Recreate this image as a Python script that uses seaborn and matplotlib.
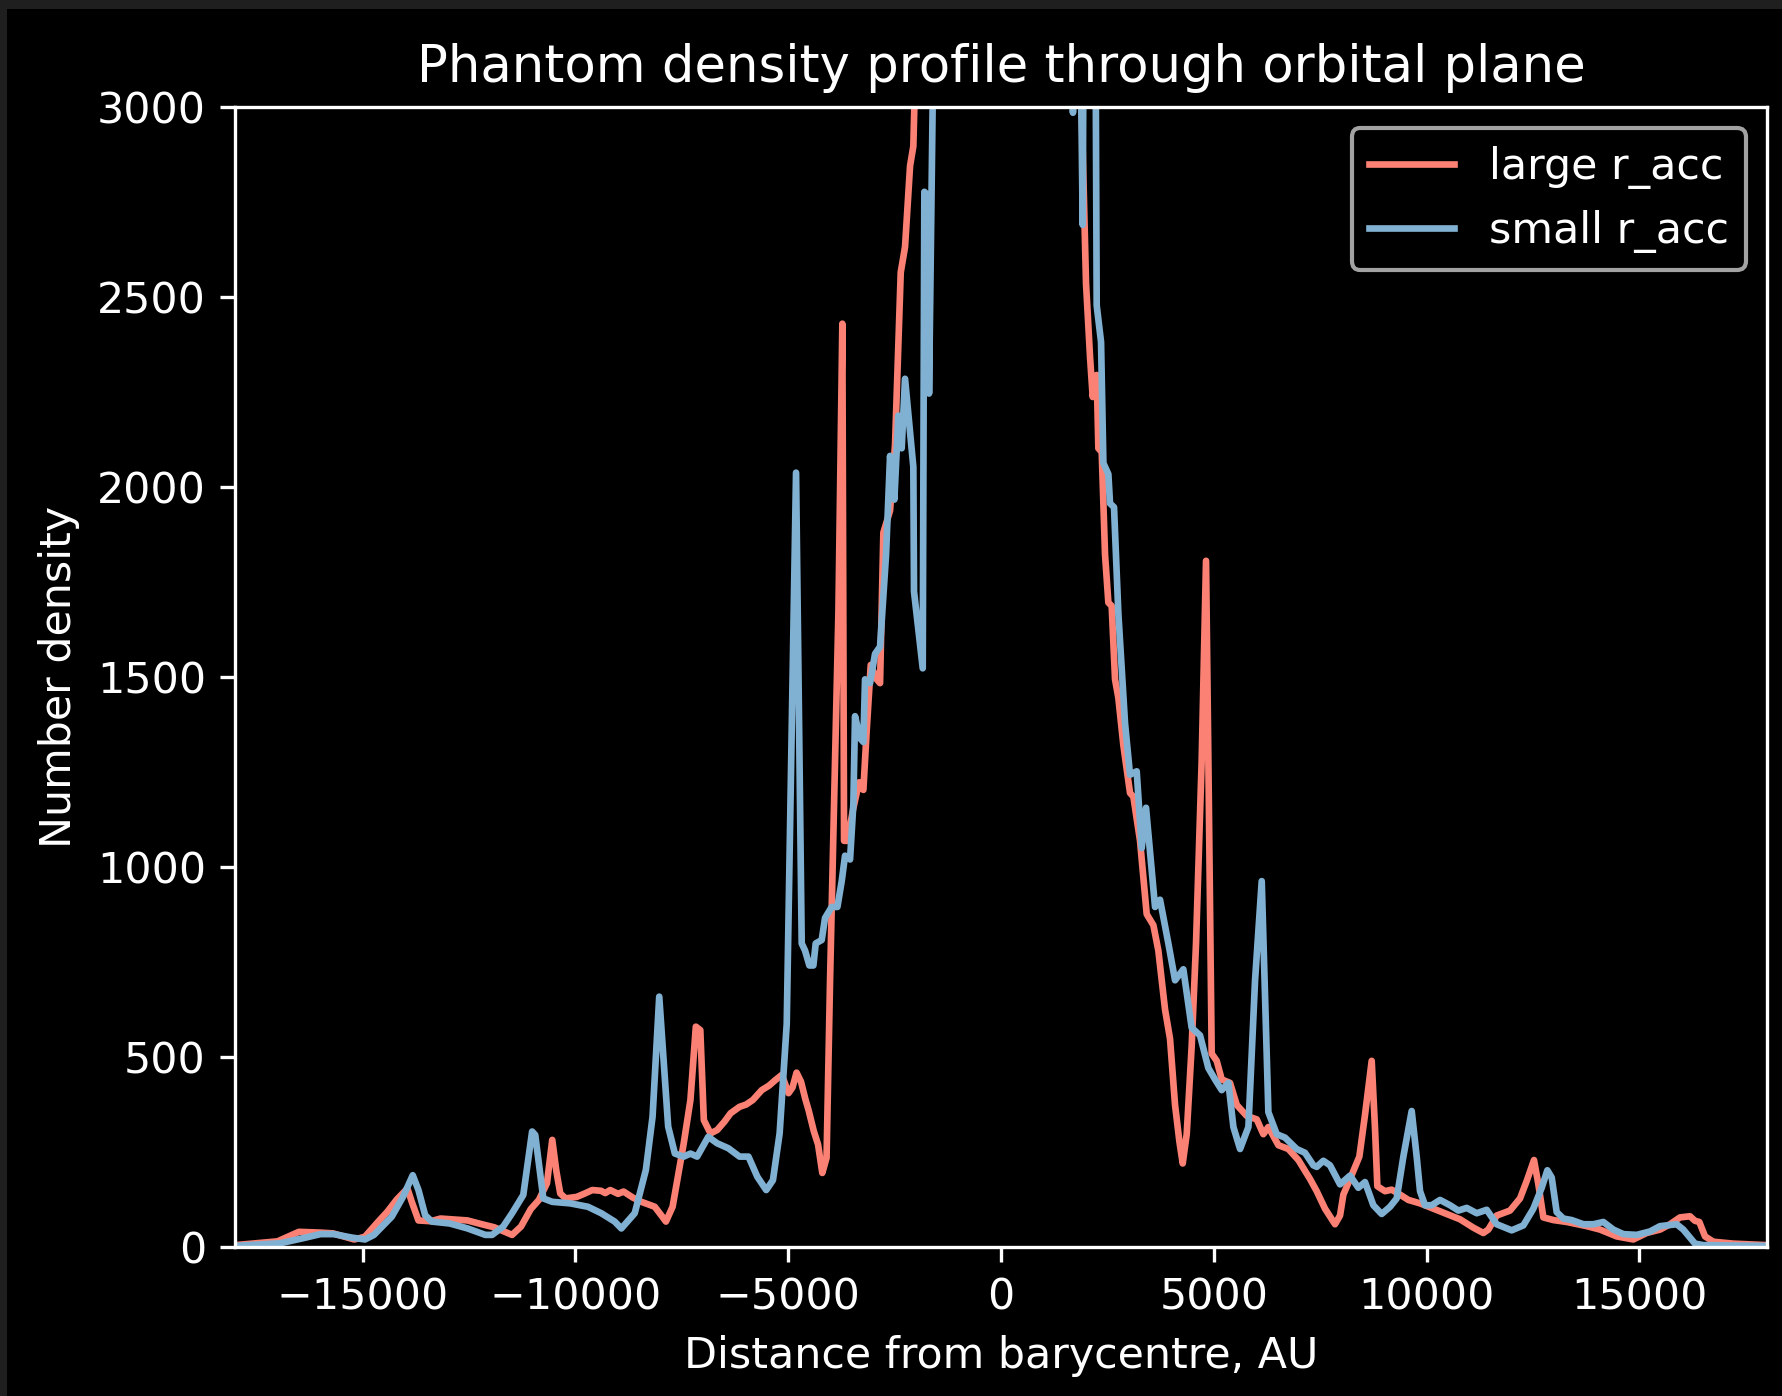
import matplotlib
matplotlib.use("Agg")
import matplotlib.pyplot as plt
from matplotlib.patches import Rectangle
import seaborn as sns
import pandas as pd

# Density profile along the orbital-plane cut, two accretion radii
large_x = [-18000, -17000, -16500, -16000, -15700, -15200, -14950, -14650, -14420, -14200,
           -13950, -13850, -13690, -13400, -13170, -12800, -12540, -12200, -11910, -11490,
           -11280, -11050, -10860, -10670, -10546, -10450, -10358, -10232, -9970, -9800,
           -9604, -9400, -9300, -9184, -9000, -8870, -8650, -8451, -8137, -7960,
           -7875, -7718, -7456, -7299, -7172, -7067, -6984, -6827, -6670, -6500,
           -6356, -6145, -5990, -5832, -5623, -5450, -5308, -5151, -4994, -4900,
           -4805, -4700, -4600, -4522, -4400, -4300, -4200, -4100, -4018, -3940,
           -3822, -3729, -3689, -3611, -3480, -3337, -3235, -3157, -3062, -2921,
           -2843, -2765, -2608, -2491, -2357, -2256, -2138, -2061, -1900, -1200,
           -600, 0, 600, 1200, 1850, 1960, 1997, 2091, 2154, 2248,
           2287, 2366, 2444, 2522, 2600, 2679, 2757, 2875, 3031, 3110,
           3266, 3423, 3580, 3697, 3854, 3971, 4089, 4191, 4269, 4363,
           4480, 4582, 4715, 4817, 4872, 4950, 5068, 5186, 5381, 5539,
           5774, 6009, 6164, 6282, 6517, 6752, 6987, 7261, 7418, 7613,
           7848, 7966, 8044, 8201, 8420, 8553, 8710, 8788, 8843, 9023,
           9179, 9376, 9571, 9846, 10159, 10473, 10786, 11099, 11333, 11451,
           11648, 11961, 12196, 12353, 12524, 12627, 12744, 12979, 13293, 13763,
           14075, 14467, 14858, 15172, 15486, 15720, 15955, 16190, 16307, 16409,
           16543, 16738, 17208, 18000]
large_n = [5, 15, 40, 38, 36, 20, 27, 65, 93, 125,
           154, 120, 70, 68, 75, 72, 70, 60, 52, 32,
           54, 100, 124, 168, 282, 200, 141, 128, 132, 140,
           150, 148, 142, 150, 140, 146, 130, 119, 106, 80,
           67, 106, 273, 387, 580, 571, 334, 299, 308, 330,
           352, 369, 375, 387, 413, 425, 439, 453, 405, 420,
           459, 435, 390, 360, 305, 270, 195, 235, 702, 1088,
           1667, 2430, 1069, 1069, 1150, 1223, 1203, 1359, 1532, 1494,
           1484, 1880, 1938, 2111, 2565, 2632, 2845, 2897, 3600, 5000,
           6500, 7000, 6500, 5000, 3200, 2700, 2536, 2343, 2237, 2295,
           2102, 2092, 1822, 1696, 1687, 1494, 1445, 1320, 1195, 1185,
           1069, 876, 847, 780, 625, 548, 374, 278, 220, 297,
           529, 799, 1281, 1806, 1281, 509, 490, 441, 432, 374,
           345, 336, 297, 316, 268, 258, 229, 179, 147, 101,
           60, 83, 138, 179, 238, 348, 490, 312, 160, 147,
           151, 138, 124, 115, 101, 87, 73, 51, 37, 46,
           83, 96, 128, 174, 229, 165, 78, 71, 66, 55,
           46, 28, 20, 37, 46, 60, 78, 81, 69, 66,
           28, 14, 9, 5]

small_x = [-18000, -16937, -16413, -15993, -15681, -15261, -14946, -14736, -14317, -14054,
           -13824, -13690, -13533, -13376, -12955, -12537, -12118, -11960, -11698, -11490,
           -11227, -11019, -10946, -10756, -10546, -10127, -9708, -9394, -9079, -8922,
           -8608, -8346, -8189, -8032, -7822, -7665, -7456, -7299, -7142, -6880,
           -6670, -6408, -6145, -5935, -5727, -5518, -5360, -5203, -5036, -4817,
           -4684, -4605, -4504, -4410, -4355, -4214, -4136, -3979, -3845, -3744,
           -3666, -3548, -3470, -3431, -3313, -3235, -3196, -3078, -2961, -2843,
           -2702, -2608, -2507, -2413, -2335, -2256, -2061, -2045, -1840, -1802,
           -1708, -1692, -1574, -1000, 0, 900, 1500, 1690, 1780, 1856,
           1919, 1950, 2209, 2248, 2350, 2405, 2522, 2561, 2655, 2757,
           2914, 3031, 3188, 3306, 3407, 3619, 3736, 3932, 4089, 4284,
           4480, 4676, 4872, 5029, 5186, 5343, 5460, 5617, 5813, 5969,
           6126, 6282, 6478, 6673, 6948, 7143, 7339, 7418, 7574, 7731,
           7966, 8201, 8396, 8553, 8749, 8945, 9141, 9298, 9454, 9650,
           9767, 9846, 9963, 10120, 10316, 10551, 10747, 10943, 11178, 11413,
           11648, 12000, 12274, 12509, 12705, 12838, 12940, 13057, 13214, 13410,
           13684, 13919, 14153, 14388, 14623, 14937, 15250, 15486, 15877, 16033,
           16307, 16504, 18000]
small_n = [3, 10, 23, 34, 34, 25, 20, 32, 80, 132,
           189, 150, 84, 67, 62, 49, 32, 32, 54, 89,
           137, 304, 295, 128, 119, 115, 106, 89, 67, 49,
           89, 203, 343, 659, 317, 246, 238, 246, 238, 290,
           273, 260, 238, 238, 185, 150, 176, 299, 587, 2038,
           799, 780, 741, 741, 799, 808, 866, 895, 895, 963,
           1030, 1020, 1166, 1397, 1339, 1329, 1494, 1484, 1561, 1580,
           1822, 2082, 1967, 2188, 2102, 2285, 2053, 1725, 1523, 2777,
           2767, 2246, 3300, 5000, 6200, 5200, 3800, 2985, 3400, 3300,
           2690, 3500, 3500, 2478, 2382, 2063, 2034, 1957, 1947, 1667,
           1378, 1243, 1252, 1050, 1156, 895, 914, 799, 702, 731,
           577, 557, 471, 441, 413, 432, 316, 258, 316, 702,
           963, 355, 297, 288, 258, 248, 215, 211, 227, 215,
           165, 188, 156, 171, 110, 87, 106, 128, 238, 358,
           238, 147, 110, 110, 124, 110, 96, 103, 89, 98,
           60, 44, 57, 101, 156, 202, 183, 92, 75, 71,
           60, 60, 66, 46, 34, 32, 41, 55, 60, 46,
           9, 5, 3]

labels = ["large r_acc", "small r_acc"]
colors = ["#fa8174", "#81b1d2"]

plt.style.use("dark_background")
plt.rcParams["font.family"] = ["DejaVu Sans"]
plt.rcParams["font.size"] = 10.25

fig = plt.figure(figsize=(1782 / 300, 1396 / 300), dpi=300)
ax = fig.add_axes([0.1319, 0.1067, 0.9916 - 0.1319, 0.9233 - 0.1067])

large_df = pd.DataFrame({"x": large_x, "n": large_n})
small_df = pd.DataFrame({"x": small_x, "n": small_n})
sns.lineplot(data=large_df, x="x", y="n", ax=ax, color=colors[0], label=labels[0],
             linewidth=1.6, sort=False, estimator=None)
sns.lineplot(data=small_df, x="x", y="n", ax=ax, color=colors[1], label=labels[1],
             linewidth=1.6, sort=False, estimator=None)

ax.set_xlim(-18000, 18000)
ax.set_ylim(0, 3000)
ax.set_title("Phantom density profile through orbital plane", fontsize=12.3)
ax.set_xlabel("Distance from barycentre, AU", fontsize=10.25)
ax.set_ylabel("Number density", fontsize=10.25)
ax.tick_params(labelsize=10.25)
ax.legend(loc="upper right", fontsize=10.25)

# thin grey margin along the top and left edges of the canvas
fig.patches.append(Rectangle((0, 1 - 9 / 1396), 1, 9 / 1396, transform=fig.transFigure,
                             facecolor="#1f1f1f", edgecolor="none", zorder=10))
fig.patches.append(Rectangle((0, 0), 7 / 1782, 1, transform=fig.transFigure,
                             facecolor="#1f1f1f", edgecolor="none", zorder=10))

fig.savefig("out.png", dpi=300, facecolor="black")
